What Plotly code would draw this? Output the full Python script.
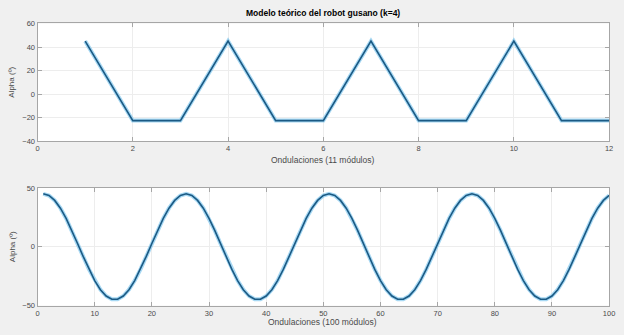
import plotly.graph_objects as go

# ---- data ----
x_top = [1, 2, 3, 4, 5, 6, 7, 8, 9, 10, 11, 12]
alpha_top = [45, -22.5, -22.5, 45, -22.5, -22.5, 45, -22.5, -22.5, 45, -22.5, -22.5]

x_bottom = list(range(1, 101))
alpha_bottom = [
    45.0, 43.6, 39.4, 32.8, 24.1, 13.9, 2.8, -8.4, -19.2, -28.7, -36.4, -41.8, -44.6,
    -44.6, -41.8, -36.4, -28.7, -19.2, -8.4, 2.8, 13.9, 24.1, 32.8, 39.4, 43.6,
    45.0, 43.6, 39.4, 32.8, 24.1, 13.9, 2.8, -8.4, -19.2, -28.7, -36.4, -41.8, -44.6,
    -44.6, -41.8, -36.4, -28.7, -19.2, -8.4, 2.8, 13.9, 24.1, 32.8, 39.4, 43.6,
    45.0, 43.6, 39.4, 32.8, 24.1, 13.9, 2.8, -8.4, -19.2, -28.7, -36.4, -41.8, -44.6,
    -44.6, -41.8, -36.4, -28.7, -19.2, -8.4, 2.8, 13.9, 24.1, 32.8, 39.4, 43.6,
    45.0, 43.6, 39.4, 32.8, 24.1, 13.9, 2.8, -8.4, -19.2, -28.7, -36.4, -41.8, -44.6,
    -44.6, -41.8, -36.4, -28.7, -19.2, -8.4, 2.8, 13.9, 24.1, 32.8, 39.4, 43.6,
]

title_text = "Modelo teórico del robot gusano (k=4)"
xlabel_top = "Ondulaciones (11 módulos)"
xlabel_bottom = "Ondulaciones (100 módulos)"
ylabel = "Alpha (º)"

top_xticks = [0, 2, 4, 6, 8, 10, 12]
top_yticks = [-40, -20, 0, 20, 40, 60]
bottom_xticks = [0, 10, 20, 30, 40, 50, 60, 70, 80, 90, 100]
bottom_yticks = [-50, 0, 50]

W, H = 624, 335
halo = "rgba(130,200,238,0.7)"
core = "#1b5a84"
font = "Liberation Sans, Arial, sans-serif"
tickcol = "#4a4a4a"

fig = go.Figure()
for xs, ys, xa, ya in [(x_top, alpha_top, "x", "y"), (x_bottom, alpha_bottom, "x2", "y2")]:
    fig.add_trace(go.Scatter(x=xs, y=ys, mode="lines", xaxis=xa, yaxis=ya,
                             line=dict(color=halo, width=4), showlegend=False, hoverinfo="skip"))
    fig.add_trace(go.Scatter(x=xs, y=ys, mode="lines", xaxis=xa, yaxis=ya,
                             line=dict(color=core, width=1.6), showlegend=False))

xdom = [36 / W, 615 / W]
top_dom = [1 - 141 / H, 1 - 20 / H]
bot_dom = [1 - 310 / H, 1 - 189 / H]

axis_common = dict(
    showline=True, linecolor="#a6a6a6", linewidth=1, mirror="ticks",
    ticks="inside", ticklen=4, tickcolor="#a6a6a6",
    showgrid=True, gridcolor="#ededed", gridwidth=1, zeroline=False,
    tickfont=dict(family=font, size=7.5, color=tickcol),
)

fig.update_layout(
    width=W, height=H,
    margin=dict(l=0, r=0, t=0, b=0),
    paper_bgcolor="#f0f0f0",
    plot_bgcolor="white",
    xaxis=dict(domain=xdom, anchor="y", range=[0, 12], tickvals=top_xticks, **axis_common),
    yaxis=dict(domain=top_dom, anchor="x", range=[-40, 60], tickvals=top_yticks, **axis_common),
    xaxis2=dict(domain=xdom, anchor="y2", range=[0, 100], tickvals=bottom_xticks, **axis_common),
    yaxis2=dict(domain=bot_dom, anchor="x2", range=[-50, 50], tickvals=bottom_yticks, **axis_common),
    annotations=[
        dict(text="<b>" + title_text + "</b>", x=325 / W, y=1 - 9 / H, xref="paper", yref="paper",
             showarrow=False, font=dict(family=font, size=8.5, color="black"), xanchor="center", yanchor="middle"),
        dict(text=xlabel_top, x=325 / W, y=1 - 160 / H, xref="paper", yref="paper",
             showarrow=False, font=dict(family=font, size=8.5, color=tickcol), xanchor="center", yanchor="middle"),
        dict(text=xlabel_bottom, x=325 / W, y=1 - 327 / H, xref="paper", yref="paper",
             showarrow=False, font=dict(family=font, size=8.5, color=tickcol), xanchor="center", yanchor="middle"),
        dict(text=ylabel, x=10 / W, y=1 - 80 / H, xref="paper", yref="paper", textangle=-90,
             showarrow=False, font=dict(family=font, size=8, color=tickcol), xanchor="center", yanchor="middle"),
        dict(text=ylabel, x=10 / W, y=1 - 249 / H, xref="paper", yref="paper", textangle=-90,
             showarrow=False, font=dict(family=font, size=8, color=tickcol), xanchor="center", yanchor="middle"),
    ],
)

fig.write_html("out.html", config={"displayModeBar": False})
with open("out.html", encoding="utf-8") as f:
    html = f.read()
html = html.replace("<body>", '<body style="margin:0;padding:0;overflow:hidden;">', 1)
with open("out.html", "w", encoding="utf-8") as f:
    f.write(html)
